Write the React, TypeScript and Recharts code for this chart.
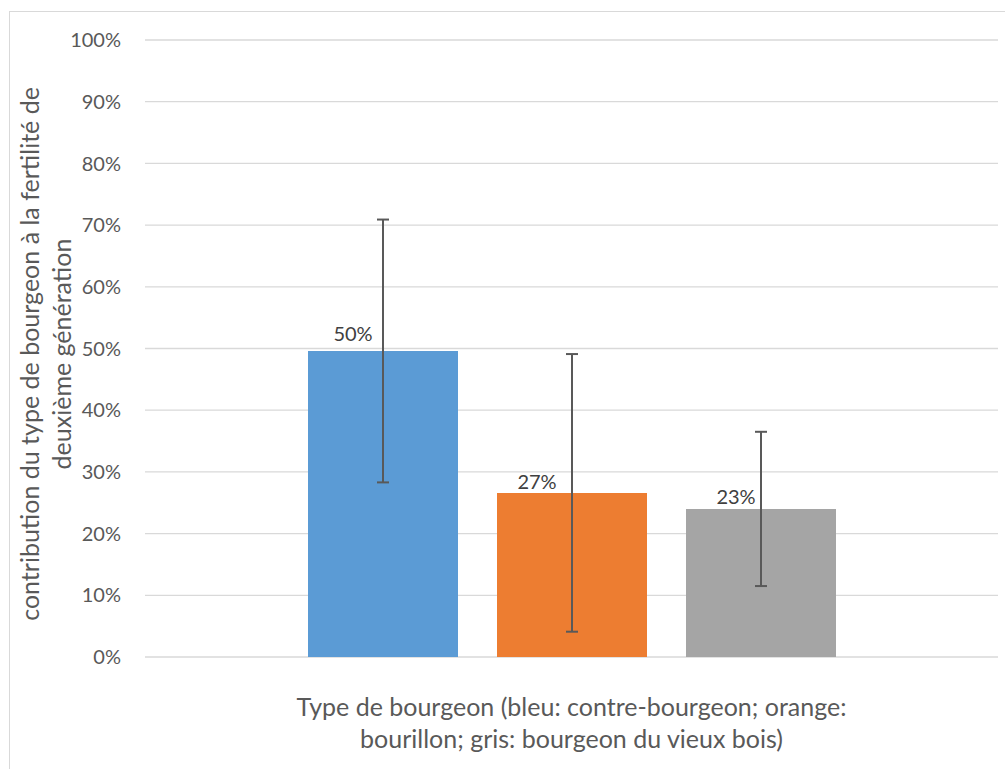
import React from "react";
import { BarChart, Bar, XAxis, YAxis, CartesianGrid, ErrorBar, LabelList } from "recharts";

const seriesKeys = ["bleu", "orange", "gris"];
const seriesColors = ["#5B9BD5", "#ED7D31", "#A5A5A5"];
const seriesValues = [0.496, 0.266, 0.24];
const seriesErrors = [0.213, 0.225, 0.125];
const labelTexts = ["50%", "27%", "23%"];
const yTicks = [0, 0.1, 0.2, 0.3, 0.4, 0.5, 0.6, 0.7, 0.8, 0.9, 1];
const xTitleLines = ["Type de bourgeon (bleu: contre-bourgeon; orange:", "bourillon; gris: bourgeon du vieux bois)"];
const yTitleLines = ["contribution du type de bourgeon à la fertilité de", "deuxième génération"];

const row: Record<string, any> = { cat: "" };
seriesKeys.forEach((k, i) => {
  row[k] = seriesValues[i];
  row[k + "Err"] = seriesErrors[i];
});
const data = [row];

const labelShift = [
  { dx: -30, dy: -10 },
  { dx: -35, dy: -4 },
  { dx: -25, dy: -5 },
];

const FONT = "Lato, 'Noto Sans', sans-serif";

const makeLabel = (si: number) => (props: any) => {
  const { x, y, width } = props;
  return (
    <text
      x={x + width / 2 + labelShift[si].dx}
      y={y + labelShift[si].dy}
      textAnchor="middle"
      fontFamily={FONT}
      fontSize={20}
      fill="#404040"
    >
      {labelTexts[si]}
    </text>
  );
};

export default function App() {
  return (
    <div style={{ position: "absolute", left: 0, top: 0, width: 1005, height: 769, background: "#fff" }}>
      <BarChart
        width={1005}
        height={769}
        data={data}
        margin={{ top: 40, right: 7, left: 0, bottom: 0 }}
        barSize={150}
        barGap={39}
      >
        <CartesianGrid vertical={false} stroke="#D9D9D9" strokeWidth={1.3} />
        <XAxis dataKey="cat" height={112} tick={false} axisLine={false} tickLine={false} />
        <YAxis
          width={145}
          domain={[0, 1]}
          ticks={yTicks}
          interval={0}
          axisLine={false}
          tickLine={false}
          tickMargin={18}
          tickFormatter={(v: number) => `${Math.round(v * 100)}%`}
          tick={{ fontFamily: FONT, fontSize: 20, fill: "#595959" }}
        />
        {seriesKeys.map((k, i) => (
          <Bar key={k} dataKey={k} fill={seriesColors[i]} isAnimationActive={false}>
            <ErrorBar dataKey={k + "Err"} direction="y" width={6} strokeWidth={2} stroke="#595959" />
            <LabelList dataKey={k} content={makeLabel(i)} />
          </Bar>
        ))}
      </BarChart>
      <svg
        width={1005}
        height={769}
        style={{ position: "absolute", left: 0, top: 0, pointerEvents: "none" }}
      >
        <rect x={9.5} y={11.5} width={1005} height={770} fill="none" stroke="#D9D9D9" strokeWidth={1} />
        {xTitleLines.map((t, i) => (
          <text
            key={i}
            x={571.5}
            y={716 + i * 32}
            textAnchor="middle"
            fontFamily={FONT}
            fontSize={25}
            fill="#595959"
          >
            {t}
          </text>
        ))}
        {yTitleLines.map((t, i) => (
          <text
            key={i}
            transform={`translate(${39 + i * 32}, 354) rotate(-90)`}
            textAnchor="middle"
            fontFamily={FONT}
            fontSize={25}
            fill="#595959"
          >
            {t}
          </text>
        ))}
      </svg>
    </div>
  );
}
